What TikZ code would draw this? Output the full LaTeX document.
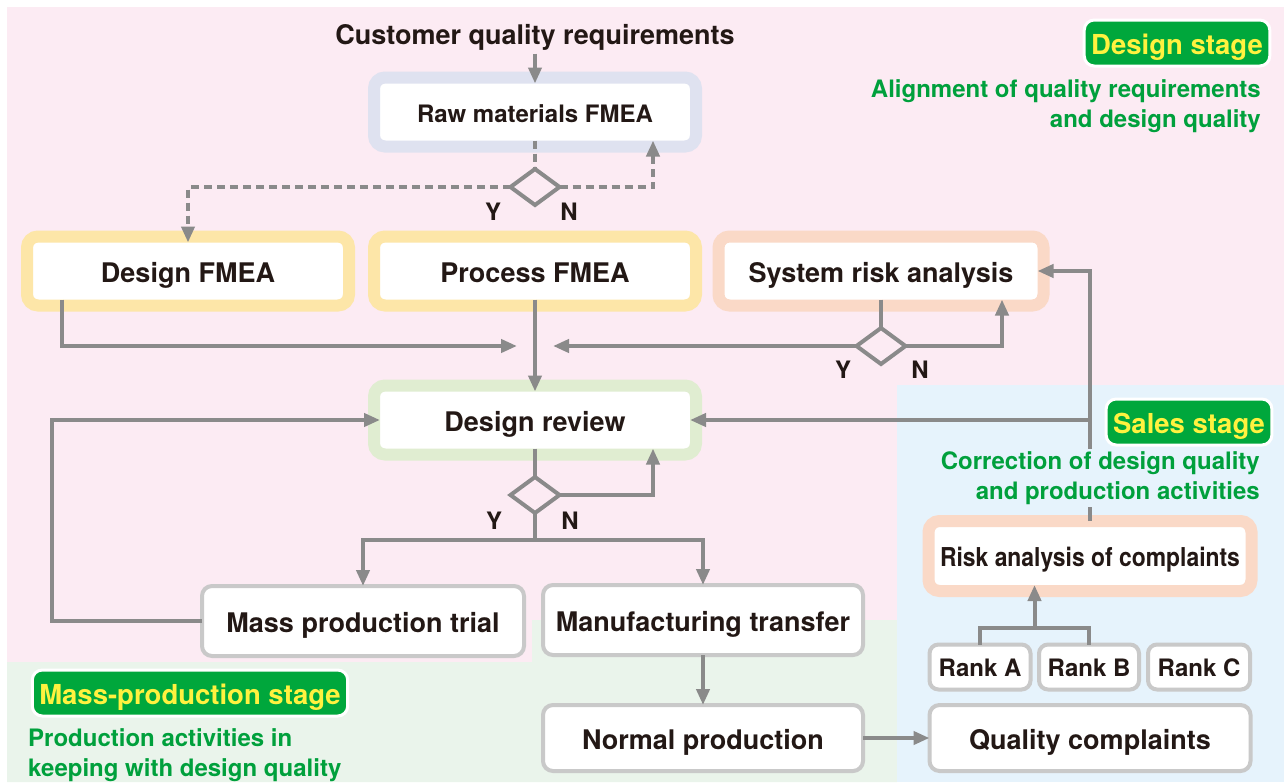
\documentclass[tikz,border=0pt]{standalone}
\usepackage{fontspec}
\setmainfont{TeX Gyre Heros}
\usepackage{graphicx}
\usetikzlibrary{arrows.meta,shapes.geometric,calc}
\definecolor{ink}{HTML}{231815}
\definecolor{pinkbg}{HTML}{FCEBF3}
\definecolor{greenbg}{HTML}{EAF4EB}
\definecolor{bluebg}{HTML}{E6F3FC}
\definecolor{linegray}{HTML}{8A8A8A}
\definecolor{framegray}{HTML}{C9C9C9}
\definecolor{lavender}{HTML}{DFE2F0}
\definecolor{butter}{HTML}{FDE6A8}
\definecolor{peach}{HTML}{FAD9C7}
\definecolor{mint}{HTML}{E0EDD1}
\definecolor{stagegreen}{HTML}{00A73C}
\definecolor{stageyellow}{HTML}{FFF23F}
\definecolor{notegreen}{HTML}{00A03C}
\newcommand{\bigfont}{\bfseries\fontsize{27}{32}\selectfont}
\tikzset{
  halo/.style={draw=#1,line width=12pt,fill=white,rounded corners=11pt,outer sep=-6pt,
    minimum width=322pt,minimum height=69pt,font=\bigfont,text height=22pt,text depth=0pt},
  card/.style={draw=framegray,line width=4pt,fill=white,rounded corners=10pt,outer sep=0pt,
    minimum width=320pt,minimum height=70pt,font=\bigfont,text height=22pt,text depth=0pt},
  rank/.style={card,minimum width=101pt,minimum height=45pt,rounded corners=9pt,
    font=\bfseries\fontsize{24}{28}\selectfont,text height=19.5pt},
  decide/.style={diamond,draw=linegray,line width=4pt,minimum width=49pt,minimum height=36pt,
    inner sep=0pt,outer sep=0pt},
  link/.style={draw=linegray,line width=4pt},
  flow/.style={link,-{Triangle[length=16pt,width=13pt]}},
  dashlink/.style={link,dash pattern=on 8pt off 5pt},
  dashflow/.style={flow,dash pattern=on 8pt off 5pt},
  stage/.style={fill=stagegreen,draw=white,line width=3pt,rounded corners=10pt,text=stageyellow,
    font=\bfseries\fontsize{27.5}{32}\selectfont,inner xsep=7pt,minimum height=46pt,
    text height=22pt,text depth=0pt},
  note/.style={text=notegreen,font=\bfseries\fontsize{24}{30}\selectfont,inner sep=0pt},
  yn/.style={font=\bfseries\fontsize{24}{28}\selectfont}
}
\begin{document}
\begin{tikzpicture}[x=1pt,y=-1pt,every node/.style={text=ink}]
\useasboundingbox (0,0) rectangle (1284,782);
\fill[pinkbg] (7,7)--(1284,7)--(1284,385)--(897,385)--(897,620)--(532,620)--(532,662)--(7,662)--cycle;
\fill[greenbg] (7,662)--(532,662)--(532,620)--(897,620)--(897,782)--(7,782)--cycle;
\fill[bluebg] (897,385) rectangle (1284,782);

\node[font=\bigfont] (cqr) at (535,37) {Customer quality requirements};
\node[halo=lavender,font=\bfseries\fontsize{24}{30}\selectfont,text height=20pt] (raw) at (535,112) {Raw materials FMEA};
\node[decide] (d1) at (535,187) {};
\node[halo=butter] (dfmea) at (188,271) {Design FMEA};
\node[halo=butter] (pfmea) at (535,271) {Process FMEA};
\node[halo=peach,minimum width=325pt] (sysrisk) at (881,271) {System risk analysis};
\node[decide] (d2) at (881,346) {};
\node[halo=mint] (review) at (535,420) {Design review};
\node[decide] (d3) at (535,495) {};
\node[card,minimum width=322pt] (trial) at (363,621) {Mass production trial};
\node[card] (transfer) at (703,620) {Manufacturing transfer};
\node[card,minimum height=66pt] (normal) at (703,738) {Normal production};
\node[card,minimum width=321pt,minimum height=66pt] (complaints) at (1090,738) {Quality complaints};
\node[rank] (rankA) at (980,667) {Rank A};
\node[rank,minimum width=100pt] (rankB) at (1089,667) {Rank B};
\node[rank,minimum width=102pt] (rankC) at (1199,667) {Rank C};
\node[halo=peach,minimum width=323pt,minimum height=70pt,font=\bfseries\fontsize{26}{30}\selectfont,text height=21pt] (riskc) at (1090,556) {\scalebox{0.88}[1]{Risk analysis of complaints}};

\coordinate (meet) at (535,346);
\coordinate (fork) at (535,540);
\draw[flow] (cqr)--(raw);
\draw[dashlink] (raw)--(d1);
\draw[dashflow] (d1.west)-|(dfmea);
\draw[dashflow] (d1.east)-|([xshift=118pt]raw.south);
\draw[flow] ([xshift=-126pt]dfmea.south)|-([xshift=-18pt]meet);
\draw[flow] (pfmea)--(review);
\draw[link] (sysrisk)--(d2);
\draw[flow] (d2.west)--([xshift=18pt]meet);
\draw[flow] (d2.east)-|([xshift=121pt]sysrisk.south);
\draw[flow] ([yshift=6pt]riskc.north)|-(sysrisk.east);
\draw[flow] (riskc.north|-review.east)--(review.east);
\draw[flow] (trial.west)--++(-150,0)|-(review.west);
\draw[link] (review)--(d3);
\draw[flow] (d3.east)-|([xshift=118pt]review.south);
\draw[link] (d3)--(fork);
\draw[flow] (fork)-|(trial);
\draw[flow] (fork)-|(transfer);
\draw[flow] (transfer)--(normal);
\draw[flow] (normal)--(complaints);
\draw[link] (rankA)--++(0,-39)-|(rankB);
\coordinate (rk) at ($(rankA)!0.5!(rankB)+(0,-39)$);
\draw[flow] (rk)--(rk|-riskc.south);

\node[yn] at (493,212) {Y};
\node[yn] at (569,212) {N};
\node[yn] at (843,370) {Y};
\node[yn] at (920,370) {N};
\node[yn] at (494,521) {Y};
\node[yn] at (570,521) {N};

\node[stage] (dstage) at (1177,43) {Design stage};
\node[note,anchor=east,align=right] (dnote) at (1261,106) {Alignment of quality requirements\\and design quality};
\node[note,anchor=east,align=right,fill=bluebg,inner sep=2pt] (snote) at (1262,478) {Correction of design quality\\and production activities};
\node[stage] (sstage) at (1189,422) {Sales stage};
\node[stage] (mstage) at (190,693) {Mass-production stage};
\node[note,anchor=west,align=left] (mnote) at (28,755) {Production activities in\\keeping with design quality};
\end{tikzpicture}
\end{document}
